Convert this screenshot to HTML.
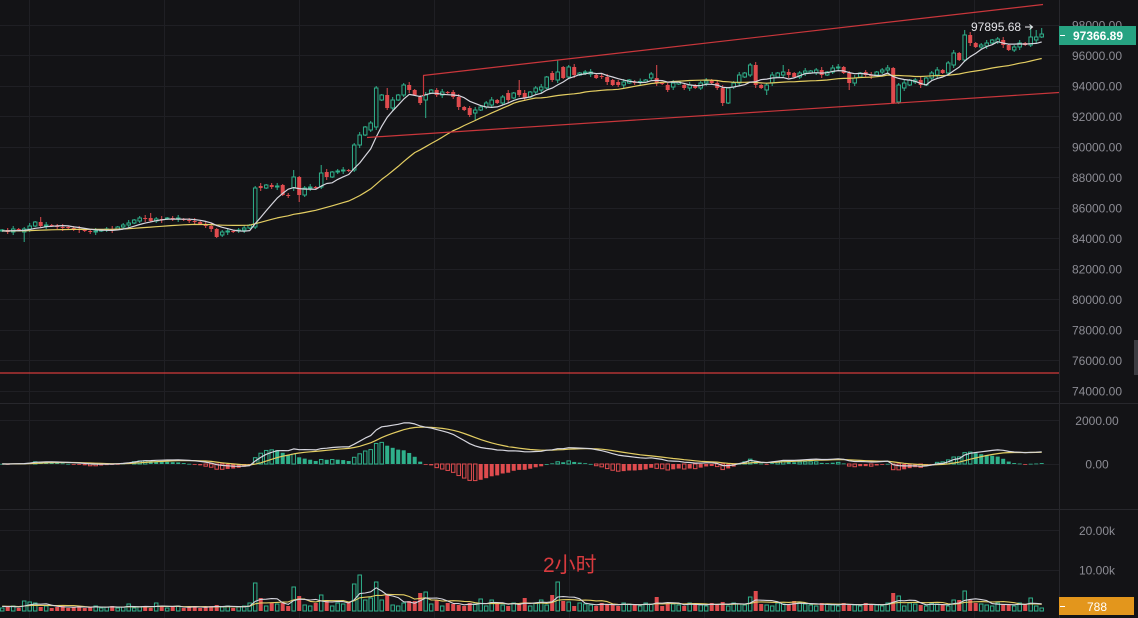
<!DOCTYPE html>
<html><head><meta charset="utf-8">
<style>
html,body{margin:0;padding:0;background:#131316;width:1138px;height:618px;overflow:hidden}
svg{display:block}
text{font-family:"Liberation Sans","Noto Sans CJK SC",sans-serif}
</style></head><body>
<svg id="c" width="1138" height="618" viewBox="0 0 1138 618" xmlns="http://www.w3.org/2000/svg">
<defs>
<clipPath id="cm"><rect x="0" y="0" width="1059" height="402"/></clipPath>
<clipPath id="cd"><rect x="0" y="404" width="1059" height="104"/></clipPath>
<clipPath id="cv"><rect x="0" y="510" width="1059" height="108"/></clipPath>
</defs>
<rect width="1138" height="618" fill="#131316"/>
<g stroke="#1f1f24" stroke-width="1">
<line x1="29.5" y1="0" x2="29.5" y2="618"/>
<line x1="164.5" y1="0" x2="164.5" y2="618"/>
<line x1="299.5" y1="0" x2="299.5" y2="618"/>
<line x1="434.5" y1="0" x2="434.5" y2="618"/>
<line x1="569.5" y1="0" x2="569.5" y2="618"/>
<line x1="704.5" y1="0" x2="704.5" y2="618"/>
<line x1="839.5" y1="0" x2="839.5" y2="618"/>
<line x1="974.5" y1="0" x2="974.5" y2="618"/>
<line x1="0" y1="25.5" x2="1059" y2="25.5"/>
<line x1="0" y1="55.5" x2="1059" y2="55.5"/>
<line x1="0" y1="86.5" x2="1059" y2="86.5"/>
<line x1="0" y1="116.5" x2="1059" y2="116.5"/>
<line x1="0" y1="147.5" x2="1059" y2="147.5"/>
<line x1="0" y1="177.5" x2="1059" y2="177.5"/>
<line x1="0" y1="208.5" x2="1059" y2="208.5"/>
<line x1="0" y1="238.5" x2="1059" y2="238.5"/>
<line x1="0" y1="269.5" x2="1059" y2="269.5"/>
<line x1="0" y1="299.5" x2="1059" y2="299.5"/>
<line x1="0" y1="330.5" x2="1059" y2="330.5"/>
<line x1="0" y1="360.5" x2="1059" y2="360.5"/>
<line x1="0" y1="391.5" x2="1059" y2="391.5"/>
<line x1="0" y1="420.5" x2="1059" y2="420.5"/>
<line x1="0" y1="464.5" x2="1059" y2="464.5"/>
<line x1="0" y1="530.5" x2="1059" y2="530.5"/>
<line x1="0" y1="570.5" x2="1059" y2="570.5"/>
</g>
<g stroke="#27272c" stroke-width="1">
<line x1="0" y1="403.5" x2="1138" y2="403.5"/>
<line x1="0" y1="509.5" x2="1138" y2="509.5"/>
<line x1="1059.5" y1="0" x2="1059.5" y2="618"/>
</g>

<g id="main" clip-path="url(#cm)"></g>
<g id="macd" clip-path="url(#cd)"></g>
<g id="vol" clip-path="url(#cv)"></g>

<g stroke="#c9363b" stroke-width="1.2" fill="none">
<line x1="423" y1="75.5" x2="1043" y2="4.5"/>
<line x1="423.5" y1="75.5" x2="423.5" y2="96"/>
<line x1="367" y1="137.5" x2="1059" y2="92.5"/>
</g>
<line x1="0" y1="373" x2="1059" y2="373" stroke="#d23a3a" stroke-width="1.2"/>

<g font-size="12" fill="#8c8c94" text-anchor="middle">
<text x="1097" y="29.5">98000.00</text>
<text x="1097" y="60">96000.00</text>
<text x="1097" y="90.5">94000.00</text>
<text x="1097" y="121">92000.00</text>
<text x="1097" y="151.5">90000.00</text>
<text x="1097" y="182">88000.00</text>
<text x="1097" y="212.5">86000.00</text>
<text x="1097" y="243">84000.00</text>
<text x="1097" y="273.5">82000.00</text>
<text x="1097" y="304">80000.00</text>
<text x="1097" y="334.5">78000.00</text>
<text x="1097" y="365">76000.00</text>
<text x="1097" y="395.5">74000.00</text>
<text x="1097" y="425">2000.00</text>
<text x="1097" y="468.5">0.00</text>
<text x="1097" y="535">20.00k</text>
<text x="1097" y="574.5">10.00k</text>
</g>

<rect x="1059" y="26" width="77" height="19" fill="#27a382"/>
<line x1="1060" y1="35.5" x2="1065" y2="35.5" stroke="#ffffff" stroke-width="1"/>
<text x="1098" y="40" font-size="12" font-weight="bold" fill="#ffffff" text-anchor="middle">97366.89</text>

<rect x="1059" y="597" width="75" height="18" fill="#e3961c"/>
<line x1="1060" y1="606.5" x2="1065" y2="606.5" stroke="#ffffff" stroke-width="1"/>
<text x="1097" y="611" font-size="12" fill="#ffffff" text-anchor="middle">788</text>

<text x="971" y="31" font-size="12" fill="#e2e2e6">97895.68</text>
<g stroke="#e2e2e6" stroke-width="1.1" fill="none">
<line x1="1025" y1="27" x2="1032" y2="27"/>
<polyline points="1029.5,24.5 1032.5,27 1029.5,29.5"/>
</g>

<text x="543" y="572" font-size="21" fill="#d83a3e">2小时</text>

<rect x="1134" y="340" width="4" height="35" fill="#3c3c42"/>
</svg>
<script>
(function(){
const D=[
[231,230],[230,232],[232,229],[229,230],[232,229,0,242],[229,226],[226,222],[222,226,217,0],[226,225],[225,226],
[226,227],[227,227.5],[227,228],[228,229],[229,230],[230,231],[231,232],[232,231],[231,230],[230,229],
[229,229.5],[229,227],[227,225],[225,223],[223,220],[221,218],[218,219],[218,221,213,0],[221,219],[219,219.5],
[219,218],[218,219],[219,218],[219,220],[220,221],[221,222],[222,224],[224,226],[226,229],[229,237],
[235,232],[232,231],[231,231.5],[231,230],[230,228],[228,225],[227,188],[186,188],[188,185],[185,187],
[187,186],[185,195],[195,195.5],[188,177,170,0],[177,195,0,202],[195,188],[188,187],[187,187.5],[187,173,165,0],[172,177],
[177,172],[172,171],[171,170],[170,171],[170,145],[145,135],[135,127],[130,123],[127,88,86,0],[100,95],
[95,108,88,0],[108,100],[100,95],[95,85],[85,90],[90,95],[97,103],[100,95,0,118],[93,90],[90,95],
[95,92],[92,93],[92,97],[97,107],[107,110],[108,115],[113,110,0,120],[110,107],[107,103],[105,100],
[100,103],[103,97],[93,100],[98,93],[90,95,80,0],[93,98],[97,92],[92,88],[90,87],[88,77],
[73,80],[80,72,60,0],[67,78],[77,67],[67,75],[75,73],[73,72],[74,72],[75,78],[76,77],
[77,82],[80,85],[82,85],[85,82],[83,80],[82,82.5],[82,81.5],[82,80],[78,74],[78,83,65,0],
[83,83.5],[85,90],[87,83],[84,82],[85,88],[88,85],[85,88],[88,83],[83,81],[80,83],
[83,88],[88,103],[103,88],[87,83],[83,75],[77,73],[75,65],[65,85,62,0],[85,88],[90,85,0,95],
[83,75],[77,73],[75,72,65,0],[72,75],[73,77],[77,73],[73,71],[73,71],[73,70],[70,75],
[75,72],[72,68,65,0],[68,67],[67,73],[73,83,0,90],[83,78],[77,73],[72,75],[75,75.5],[75,72],
[72,70],[70,68],[68,103],[102,85],[88,83],[85,80],[82,80],[80,85],[85,78],[78,73],
[75,70],[70,73],[73,63],[65,53],[53,60],[60,35,30,0],[35,43],[43,47],[47,45],[46,43],
[43,40],[42,39],[40,45],[45,50],[50,47],[47,43],[43,45],[45,37,26,0],[40,37,30,0],[37,34,28,0]
];
const N=D.length;
const NS='http://www.w3.org/2000/svg';
function el(t,a,p){const e=document.createElementNS(NS,t);for(const k in a)e.setAttribute(k,a[k]);p.appendChild(e);return e;}
const G='#2fb08b',R='#df4b4e',BG='#131316',WH='#d6d6de',YE='#e3cd62';
const X=i=>2.2+5.5*i;
const main=document.getElementById('main');
const up=[];
for(let i=0;i<N;i++){
  let [o,c,h,l]=D[i];
  const u=c<o; up.push(u);
  let top=Math.min(o,c),bot=Math.max(o,c);
  if(bot-top<1)bot=top+1;
  if(!h)h=top-(1+(i*13)%3);
  if(!l)l=bot+(1+(i*7)%3);
  const cx=X(i);
  if(u){
    el('line',{x1:cx,y1:h,x2:cx,y2:top,stroke:G,'stroke-width':1},main);
    el('line',{x1:cx,y1:bot,x2:cx,y2:l,stroke:G,'stroke-width':1},main);
    el('rect',{x:cx-1.75,y:top,width:3.5,height:bot-top,fill:BG,stroke:G,'stroke-width':1},main);
  }else{
    el('line',{x1:cx,y1:h,x2:cx,y2:l,stroke:R,'stroke-width':1},main);
    el('rect',{x:cx-2,y:top,width:4,height:bot-top,fill:R},main);
  }
}
const ys=[];for(let k=0;k<30;k++)ys.push(231);for(let i=0;i<N;i++)ys.push(D[i][1]);
function ma(arr,n,off){const r=[];for(let i=0;i<N;i++){let s=0;for(let k=0;k<n;k++)s+=arr[off+i-k];r.push(s/n);}return r;}
function poly(vals,col,p,w,f){let s='';for(let i=0;i<N;i++)s+=X(i).toFixed(1)+','+f(vals[i]).toFixed(1)+' ';el('polyline',{points:s,fill:'none',stroke:col,'stroke-width':w||1.2,'stroke-linejoin':'round'},p);}
poly(ma(ys,30,30),YE,main,1.2,v=>v);
poly(ma(ys,7,30),WH,main,1.2,v=>v);
const P=y=>98000-(y-25)/0.01526;
const pr=[];const W=80;for(let k=0;k<W;k++)pr.push(P(231));for(let i=0;i<N;i++)pr.push(P(D[i][1]));
function ema(a,n){const al=2/(n+1);const r=[a[0]];for(let i=1;i<a.length;i++)r.push(r[i-1]+al*(a[i]-r[i-1]));return r;}
const e12=ema(pr,12),e26=ema(pr,26);const dif=e12.map((v,i)=>v-e26[i]);const dea=ema(dif,9);
const md=document.getElementById('macd');
const my=v=>464-v*0.02175;
const hist=[];for(let i=0;i<N;i++)hist.push(2*(dif[W+i]-dea[W+i]));
let prevH=2*(dif[W-1]-dea[W-1]);
for(let i=0;i<N;i++){
  const hv=hist[i];const cx=X(i);
  const y0=464,y1=my(hv);const top=Math.min(y0,y1),ht=Math.max(Math.abs(y1-y0),0.8);
  const col=hv>=0?G:R;const grow=Math.abs(hv)>Math.abs(prevH);
  if(grow&&ht>1.5)el('rect',{x:cx-1.75,y:top,width:3.5,height:ht,fill:BG,stroke:col,'stroke-width':1},md);
  else el('rect',{x:cx-2,y:top,width:4,height:ht,fill:col},md);
  prevH=hv;
}
const difv=[],deav=[];for(let i=0;i<N;i++){difv.push(dif[W+i]);deav.push(dea[W+i]);}
poly(deav,YE,md,1.2,my);
poly(difv,WH,md,1.2,my);
const vh=[];for(let i=0;i<N;i++)vh.push(i<45?3+(i*7)%3:5+(i*7)%4);
const sp={4:10,5:9,6:8,23:7,28:8,39:6,46:28,47:13,51:8,53:24,54:15,58:16,59:11,63:9,64:27,65:36,66:11,67:13,68:29,69:11,70:16,74:10,75:10,76:18,77:19,79:11,87:12,89:11,95:13,98:11,100:16,101:29,102:10,103:9,119:14,131:9,136:14,137:20,144:10,162:18,163:15,173:11,174:11,175:20,176:11,186:7,187:13,189:3};
for(const k in sp)vh[+k]=sp[k];
const vg=document.getElementById('vol');
for(let i=0;i<N;i++){
  const cx=X(i),h=vh[i];
  if(up[i])el('rect',{x:cx-1.75,y:611-h,width:3.5,height:h,fill:BG,stroke:G,'stroke-width':1},vg);
  else el('rect',{x:cx-2,y:611-h,width:4,height:h,fill:R},vg);
}
const va=[];for(let k=0;k<10;k++)va.push(5);for(let i=0;i<N;i++)va.push(vh[i]);
poly(ma(va,10,10),YE,vg,1.1,v=>611-v);
poly(ma(va,5,10),WH,vg,1.1,v=>611-v);
})();
</script>
</body></html>
